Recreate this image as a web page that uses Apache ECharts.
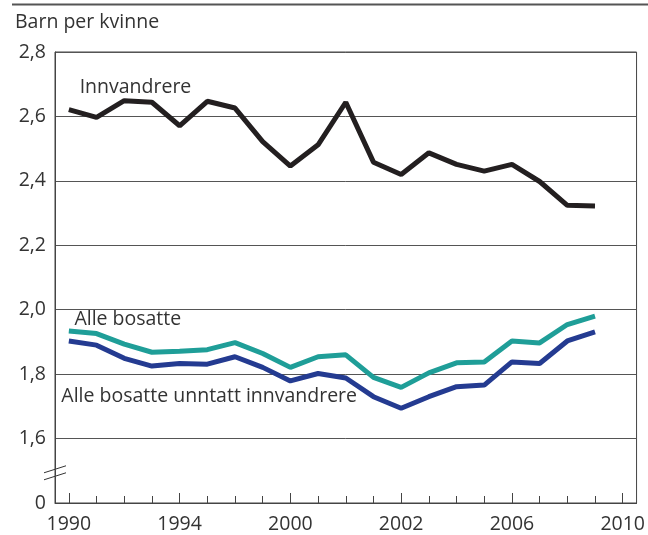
<!DOCTYPE html>
<html>
<head>
<meta charset="utf-8">
<script src="https://cdn.jsdelivr.net/npm/echarts@6/dist/echarts.min.js"></script>
<style>
  html, body { margin: 0; padding: 0; background: #fff; }
  #chart { width: 648px; height: 535px; }
</style>
</head>
<body>
<div id="chart"></div>
<script>
// år 1990-2009
const years = [1990, 1991, 1992, 1993, 1994, 1995, 1996, 1997, 1998, 1999,
  2000, 2001, 2002, 2003, 2004, 2005, 2006, 2007, 2008, 2009]
const innvandrere = [2.621, 2.597, 2.649, 2.644, 2.571, 2.647, 2.626, 2.522, 2.446, 2.512,
  2.644, 2.458, 2.42, 2.487, 2.451, 2.43, 2.451, 2.398, 2.324, 2.322]
const alleBosatte = [1.934, 1.926, 1.893, 1.868, 1.871, 1.876, 1.898, 1.864, 1.821, 1.854,
  1.86, 1.79, 1.759, 1.804, 1.835, 1.838, 1.903, 1.897, 1.954, 1.98]
const utenInnvandrere = [1.903, 1.89, 1.849, 1.825, 1.833, 1.831, 1.854, 1.821, 1.779, 1.802,
  1.788, 1.73, 1.694, 1.73, 1.761, 1.766, 1.838, 1.833, 1.903, 1.931]

// akseinndeling
const tickYears = [1990, 1991, 1992, 1993, 1994, 1995, 1996, 1997, 1998, 1999, 2000,
  2001, 2002, 2003, 2004, 2005, 2006, 2007, 2008, 2009, 2010]
const labelYears = [1990, 1994, 1998, 2002, 2006, 2010]
const labelTexts = ['1990', '1994', '2000', '2002', '2006', '2010']

const FONT = '"Open Sans", "Noto Sans", sans-serif'
const TXT = '#333333'
const FS = 19.5

const chart = echarts.init(document.getElementById('chart'), null, { renderer: 'canvas' })

const toPairs = (vals) => vals.map((v, i) => [years[i], v])

const option = {
  animation: false,
  title: {
    text: 'Barn per kvinne',
    left: 15,
    top: 12,
    padding: 0,
    textStyle: { fontFamily: FONT, fontSize: FS, fontWeight: 'normal', color: TXT }
  },
  grid: {
    left: 55,
    right: 11,
    top: 52,
    bottom: 32,
    show: true,
    borderColor: '#444',
    borderWidth: 1
  },
  xAxis: [
    {
      type: 'value',
      min: 1989.5,
      max: 2010.5,
      position: 'bottom',
      axisLine: { show: true, lineStyle: { color: '#444', width: 1 } },
      axisTick: { show: true, inside: true, length: 7, customValues: tickYears, lineStyle: { color: '#444' } },
      axisLabel: { show: false },
      splitLine: { show: false }
    },
    {
      type: 'value',
      min: 1989.5,
      max: 2010.5,
      position: 'bottom',
      offset: 0,
      axisLine: { show: false },
      axisTick: { show: true, inside: true, length: 10, customValues: labelYears, lineStyle: { color: '#444' } },
      axisLabel: {
        show: true,
        customValues: labelYears,
        margin: 11,
        fontFamily: FONT,
        fontSize: FS,
        color: TXT,
        formatter: (v) => labelTexts[labelYears.indexOf(Math.round(v))] || ''
      },
      splitLine: { show: false }
    }
  ],
  yAxis: {
    type: 'value',
    min: 1.4,
    max: 2.8,
    interval: 0.2,
    axisLine: { show: true, lineStyle: { color: '#444', width: 1 } },
    axisTick: { show: false },
    axisLabel: {
      margin: 9,
      fontFamily: FONT,
      fontSize: FS,
      color: TXT,
      formatter: (v) => (v < 1.5 ? '0' : v.toFixed(1).replace('.', ','))
    },
    splitLine: { show: true, lineStyle: { color: '#555', width: 1 } }
  },
  series: [
    {
      name: 'Innvandrere',
      type: 'line',
      data: toPairs(innvandrere),
      showSymbol: false,
      lineStyle: { color: '#231f20', width: 5 },
      itemStyle: { color: '#231f20' }
    },
    {
      name: 'Alle bosatte',
      type: 'line',
      data: toPairs(alleBosatte),
      showSymbol: false,
      lineStyle: { color: '#1f9e98', width: 5 },
      itemStyle: { color: '#1f9e98' }
    },
    {
      name: 'Alle bosatte unntatt innvandrere',
      type: 'line',
      data: toPairs(utenInnvandrere),
      showSymbol: false,
      lineStyle: { color: '#243b91', width: 5 },
      itemStyle: { color: '#243b91' }
    }
  ]
}

chart.setOption(option)

// tekster og brudd-markering plasseres via aksene
const px = (x, y) => chart.convertToPixel({ gridIndex: 0 }, [x, y])
const seriesLabels = [
  { text: 'Innvandrere', at: [1990.39, 2.658] },
  { text: 'Alle bosatte', at: [1990.2, 1.94] },
  { text: 'Alle bosatte unntatt innvandrere', at: [1989.73, 1.699] }
]
const brk = px(1989.5, 1.5)
chart.setOption({
  graphic: [
    {
      type: 'line',
      shape: { x1: 12, y1: 4.5, x2: 648, y2: 4.5 },
      style: { stroke: '#555', lineWidth: 2 }
    },
    {
      type: 'line',
      shape: { x1: brk[0] - 11, y1: brk[1] + 2, x2: brk[0] + 11, y2: brk[1] - 5 },
      style: { stroke: '#333', lineWidth: 1 }
    },
    {
      type: 'line',
      shape: { x1: brk[0] - 11, y1: brk[1] + 9, x2: brk[0] + 11, y2: brk[1] + 2 },
      style: { stroke: '#333', lineWidth: 1 }
    }
  ].concat(seriesLabels.map((l) => {
    const p = px(l.at[0], l.at[1])
    return {
      type: 'text',
      x: p[0],
      y: p[1],
      style: {
        text: l.text,
        fontFamily: FONT,
        fontSize: FS,
        fill: TXT,
        textAlign: 'left',
        textVerticalAlign: 'bottom'
      }
    }
  }))
})
</script>
</body>
</html>
